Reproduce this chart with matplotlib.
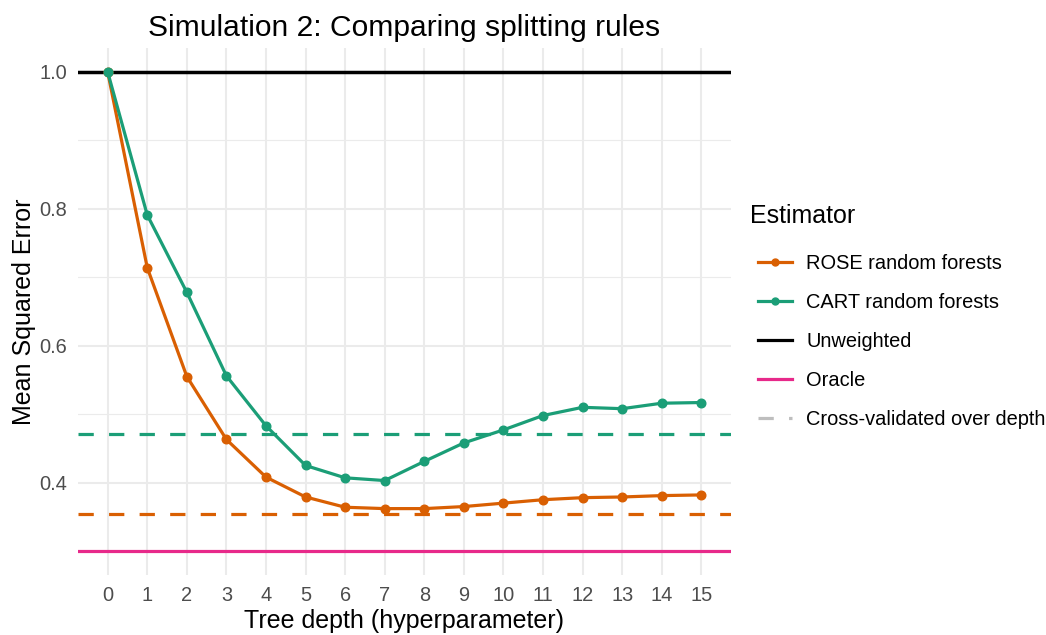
import matplotlib
matplotlib.use("Agg")
import matplotlib.pyplot as plt
from matplotlib.lines import Line2D
import numpy as np

plt.rcParams['font.family'] = ['Liberation Sans', 'DejaVu Sans']
plt.rcParams['lines.scale_dashes'] = False

# values
depth = list(range(16))
rose_mse = [1.0, 0.714, 0.555, 0.463, 0.408, 0.379, 0.364, 0.362, 0.362,
            0.365, 0.370, 0.375, 0.378, 0.379, 0.381, 0.382]
cart_mse = [1.0, 0.791, 0.678, 0.556, 0.483, 0.425, 0.407, 0.403, 0.431,
            0.458, 0.477, 0.498, 0.510, 0.508, 0.516, 0.517]
unweighted_mse = 1.0
oracle_mse = 0.30
rose_cv_mse = 0.354
cart_cv_mse = 0.471
y_ticks = [0.4, 0.6, 0.8, 1.0]
y_minor = [0.5, 0.7, 0.9]

ORANGE = "#D95F02"
GREEN = "#1B9E77"
PINK = "#E7298A"
GRID = "#EBEBEB"
TICK = "#4D4D4D"

fig = plt.figure(figsize=(10.46, 6.35), dpi=100)
W, H = 1046, 635
left, right, top, bottom = 78, 731, 48, 575
ax = fig.add_axes([left / W, 1 - bottom / H, (right - left) / W, (bottom - top) / H])

lw = 2.3
dash = (0, (11, 11))

ax.axhline(unweighted_mse, color="black", lw=2.5, zorder=2)
ax.axhline(oracle_mse, color=PINK, lw=lw, zorder=2)
ax.axhline(rose_cv_mse, color=ORANGE, lw=lw, ls=dash, zorder=2)
ax.axhline(cart_cv_mse, color=GREEN, lw=lw, ls=dash, zorder=2)

ax.plot(depth, rose_mse, color=ORANGE, lw=lw, marker="o", ms=6.2, zorder=3)
ax.plot(depth, cart_mse, color=GREEN, lw=lw, marker="o", ms=6.2, zorder=3)

ax.set_xlim(-0.75, 15.75)
ax.set_ylim(0.265, 1.035)
ax.set_xticks(depth)
ax.set_yticks(y_ticks)
ax.set_yticks(y_minor, minor=True)
ax.set_yticklabels([f"{v:.1f}" for v in y_ticks])

ax.grid(True, which="major", color=GRID, lw=1.45, zorder=0)
ax.grid(True, which="minor", axis="y", color=GRID, lw=0.8, zorder=0)
ax.set_axisbelow(True)
for s in ax.spines.values():
    s.set_visible(False)
ax.tick_params(which="both", length=0, pad=8, labelsize=14.4, labelcolor=TICK)

ax.set_xlabel("Tree depth (hyperparameter)", fontsize=18, labelpad=3)
ax.set_ylabel("Mean Squared Error", fontsize=18, labelpad=2)
ax.set_title("Simulation 2: Comparing splitting rules", fontsize=21.6, pad=9)

handles = [
    Line2D([], [], color=ORANGE, lw=lw, marker="o", ms=5),
    Line2D([], [], color=GREEN, lw=lw, marker="o", ms=5),
    Line2D([], [], color="black", lw=lw),
    Line2D([], [], color=PINK, lw=lw),
    Line2D([], [], color="#BEBEBE", lw=lw, ls=(0, (11, 11))),
]
labels = ["ROSE random forests", "CART random forests", "Unweighted",
          "Oracle", "Cross-validated over depth"]
fig.text(750 / W, 1 - 216 / H, "Estimator", fontsize=18, va="center", ha="left")
fig.legend(handles, labels, loc="upper left", bbox_to_anchor=(748 / W, 1 - 244 / H),
           fontsize=14.4, frameon=False, borderpad=0,
           handlelength=1.7, handletextpad=0.7, labelspacing=1.0)

fig.savefig("out.png", dpi=100)
